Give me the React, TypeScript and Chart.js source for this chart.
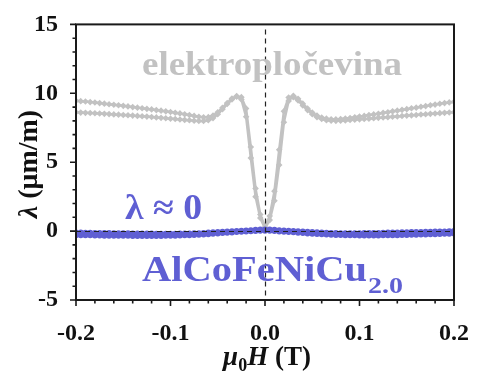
import React, { useEffect, useRef } from "react";
import { Chart, registerables } from "chart.js";
Chart.register(...registerables);

// Magnetic field sweep (T)
const field = [
  -0.2, -0.195, -0.19, -0.185, -0.18, -0.175, -0.17, -0.165, -0.16, -0.155,
  -0.15, -0.145, -0.14, -0.135, -0.13, -0.125, -0.12, -0.115, -0.11, -0.105,
  -0.1, -0.095, -0.09, -0.085, -0.08, -0.075, -0.07, -0.065, -0.06, -0.055,
  -0.05, -0.045, -0.04, -0.035, -0.03, -0.025, -0.02, -0.015, -0.01, -0.005,
  0.0, 0.005, 0.01, 0.015, 0.02, 0.025, 0.03, 0.035, 0.04, 0.045,
  0.05, 0.055, 0.06, 0.065, 0.07, 0.075, 0.08, 0.085, 0.09, 0.095,
  0.1, 0.105, 0.11, 0.115, 0.12, 0.125, 0.13, 0.135, 0.14, 0.145,
  0.15, 0.155, 0.16, 0.165, 0.17, 0.175, 0.18, 0.185, 0.19, 0.195, 0.2,
];

// elektroplocevina, branch 1 (µm/m)
const steelUpper = [
  9.46, 9.43, 9.4, 9.36, 9.33, 9.29, 9.25, 9.21, 9.17, 9.13,
  9.09, 9.05, 9.0, 8.96, 8.92, 8.87, 8.83, 8.78, 8.74, 8.69,
  8.64, 8.59, 8.54, 8.48, 8.42, 8.36, 8.3, 8.26, 8.27, 8.38,
  8.62, 8.95, 9.3, 9.62, 9.8, 9.55, 8.3, 5.3, 2.5, 0.95,
  0.2, 0.8, 2.2, 4.8, 7.9, 9.45, 9.82, 9.6, 9.25, 8.9,
  8.6, 8.38, 8.24, 8.16, 8.12, 8.11, 8.13, 8.17, 8.21, 8.26,
  8.31, 8.36, 8.42, 8.47, 8.52, 8.58, 8.63, 8.69, 8.74, 8.8,
  8.85, 8.91, 8.96, 9.02, 9.07, 9.13, 9.18, 9.24, 9.29, 9.34, 9.39,
];

// elektroplocevina, branch 2 (µm/m)
const steelLower = [
  8.62, 8.6, 8.58, 8.57, 8.55, 8.53, 8.51, 8.49, 8.47, 8.45,
  8.43, 8.41, 8.38, 8.36, 8.33, 8.31, 8.28, 8.25, 8.22, 8.19,
  8.16, 8.13, 8.1, 8.07, 8.04, 8.01, 7.99, 7.99, 8.05, 8.2,
  8.48, 8.85, 9.22, 9.55, 9.75, 9.72, 8.9, 6.1, 3.1, 1.2,
  0.3, 1.1, 2.9, 5.9, 8.7, 9.7, 9.72, 9.48, 9.12, 8.78,
  8.48, 8.27, 8.13, 8.05, 8.01, 8.0, 8.01, 8.03, 8.06, 8.08,
  8.11, 8.14, 8.16, 8.19, 8.22, 8.24, 8.27, 8.3, 8.32, 8.35,
  8.38, 8.4, 8.43, 8.46, 8.48, 8.51, 8.53, 8.56, 8.58, 8.61, 8.63,
];

// AlCoFeNiCu2.0, branch 1 (µm/m)
const alloyUpper = [
  -0.1, -0.11, -0.12, -0.12, -0.13, -0.13, -0.14, -0.14, -0.15, -0.15,
  -0.16, -0.16, -0.17, -0.17, -0.18, -0.18, -0.18, -0.19, -0.19, -0.19,
  -0.19, -0.19, -0.18, -0.18, -0.17, -0.16, -0.15, -0.13, -0.11, -0.09,
  -0.07, -0.05, -0.03, -0.01, 0.01, 0.03, 0.05, 0.07, 0.09, 0.11,
  0.12, 0.11, 0.09, 0.07, 0.05, 0.03, 0.01, -0.01, -0.03, -0.05,
  -0.07, -0.09, -0.11, -0.12, -0.13, -0.14, -0.15, -0.15, -0.15, -0.15,
  -0.15, -0.14, -0.14, -0.13, -0.13, -0.12, -0.11, -0.1, -0.1, -0.09,
  -0.08, -0.07, -0.06, -0.06, -0.05, -0.04, -0.03, -0.03, -0.02, -0.01, 0.0,
];

// AlCoFeNiCu2.0, branch 2 (µm/m)
const alloyLower = [
  -0.3, -0.3, -0.31, -0.31, -0.32, -0.32, -0.33, -0.33, -0.33, -0.34,
  -0.34, -0.34, -0.35, -0.35, -0.35, -0.35, -0.35, -0.35, -0.35, -0.34,
  -0.34, -0.33, -0.32, -0.31, -0.3, -0.28, -0.26, -0.24, -0.22, -0.19,
  -0.17, -0.14, -0.12, -0.1, -0.07, -0.05, -0.03, -0.01, 0.01, 0.02,
  0.03, 0.02, 0.0, -0.02, -0.04, -0.07, -0.09, -0.12, -0.14, -0.17,
  -0.19, -0.21, -0.23, -0.25, -0.26, -0.28, -0.29, -0.3, -0.31, -0.31,
  -0.32, -0.32, -0.32, -0.32, -0.32, -0.31, -0.31, -0.3, -0.3, -0.29,
  -0.28, -0.27, -0.26, -0.25, -0.24, -0.23, -0.22, -0.21, -0.2, -0.19, -0.18,
];

const xMajorTicks = [-0.2, -0.1, 0.0, 0.1, 0.2];
const yMajorTicks = [-5, 0, 5, 10, 15];
const xMinorStep = 0.02;
const yMinorStep = 1;

const GRAY = "#c2c2c2";
const BLUE = "#5f5fd3";
const INK = "#111111";
const SERIF = '"Liberation Serif"';

function drawFit(
  ctx: CanvasRenderingContext2D,
  text: string,
  font: string,
  color: string,
  left: number,
  right: number,
  baseline: number
) {
  ctx.save();
  ctx.font = font;
  ctx.fillStyle = color;
  ctx.textAlign = "left";
  ctx.textBaseline = "alphabetic";
  const w = ctx.measureText(text).width;
  const sx = (right - left) / w;
  ctx.translate(left, baseline);
  ctx.scale(sx, 1);
  ctx.fillText(text, 0, 0);
  ctx.restore();
}

const overlay = {
  id: "overlay",
  afterDatasetsDraw(chart: any) {
    const ctx: CanvasRenderingContext2D = chart.ctx;
    const { left, right, top, bottom } = chart.chartArea;
    const xs = chart.scales.x;
    const ys = chart.scales.y;
    ctx.save();
    // dashed zero lines
    ctx.strokeStyle = "#222";
    ctx.lineWidth = 1.2;
    ctx.setLineDash([5, 4]);
    const x0 = Math.round(xs.getPixelForValue(0)) + 0.5;
    ctx.beginPath();
    ctx.moveTo(x0, top + 5);
    ctx.lineTo(x0, bottom);
    ctx.stroke();
    const y0 = Math.round(ys.getPixelForValue(0)) + 0.5;
    ctx.beginPath();
    ctx.moveTo(left, y0);
    ctx.lineTo(right, y0);
    ctx.stroke();
    ctx.setLineDash([]);

    // frame
    ctx.strokeStyle = "#1a1a1a";
    ctx.lineWidth = 2;
    ctx.strokeRect(left, top, right - left, bottom - top);

    // ticks
    ctx.lineWidth = 1.6;
    ctx.beginPath();
    for (let v = -0.2; v <= 0.2001; v += xMinorStep) {
      const px = xs.getPixelForValue(v);
      const major = xMajorTicks.some((t) => Math.abs(t - v) < 1e-6);
      ctx.moveTo(px, bottom);
      ctx.lineTo(px, bottom + (major ? 6 : 3.5));
    }
    for (let v = -5; v <= 15; v += yMinorStep) {
      const py = ys.getPixelForValue(v);
      const major = yMajorTicks.includes(v);
      ctx.moveTo(left, py);
      ctx.lineTo(left - (major ? 6 : 3.5), py);
    }
    ctx.stroke();
    ctx.restore();
  },
  afterDraw(chart: any) {
    const ctx: CanvasRenderingContext2D = chart.ctx;
    const { left, right } = chart.chartArea;
    ctx.save();
    // annotations
    drawFit(ctx, "elektropločevina", `bold 33px ${SERIF}`, GRAY, 142, 402, 75);
    drawFit(ctx, "λ ≈ 0", `bold 35px ${SERIF}`, BLUE, 125, 202, 219);
    drawFit(ctx, "AlCoFeNiCu", `bold 36px ${SERIF}`, BLUE, 142, 367, 281);
    drawFit(ctx, "2.0", `bold 23px ${SERIF}`, BLUE, 368, 403, 293);

    // x-axis title: μ0H (T)
    ctx.fillStyle = INK;
    ctx.textBaseline = "alphabetic";
    ctx.textAlign = "left";
    const parts: [string, string, number][] = [
      ["μ", `italic bold 27px ${SERIF}`, 0],
      ["0", `bold 18px ${SERIF}`, 6],
      ["H", `italic bold 27px ${SERIF}`, 0],
      [" (T)", `bold 27px ${SERIF}`, 0],
    ];
    let total = 0;
    for (const [t, f] of parts) {
      ctx.font = f;
      total += ctx.measureText(t).width;
    }
    let cx = (left + right) / 2 + 2 - total / 2;
    for (const [t, f, dy] of parts) {
      ctx.font = f;
      ctx.fillText(t, cx, 365 + dy);
      cx += ctx.measureText(t).width;
    }

    // y-axis title: λ (μm/m)
    const yparts: [string, string][] = [
      ["λ", `italic bold 28px ${SERIF}`],
      [" (μm/m)", `bold 28px ${SERIF}`],
    ];
    let ytotal = 0;
    for (const [t, f] of yparts) {
      ctx.font = f;
      ytotal += ctx.measureText(t).width;
    }
    ctx.translate(37, 164);
    ctx.rotate(-Math.PI / 2);
    let ux = -ytotal / 2;
    for (const [t, f] of yparts) {
      ctx.font = f;
      ctx.fillText(t, ux, 0);
      ux += ctx.measureText(t).width;
    }
    ctx.restore();
  },
};

export default function App() {
  const ref = useRef<HTMLCanvasElement>(null);
  useEffect(() => {
    document.body.style.margin = "0";
    const canvas = ref.current;
    if (!canvas) return;
    const toXY = (ys: number[]) => field.map((x, i) => ({ x, y: ys[i] }));
    const tickFont = { family: SERIF, size: 24, weight: "bold" as const };
    const blueDs = (label: string, ys: number[], order: number) => ({
      label,
      data: toXY(ys),
      borderColor: BLUE,
      backgroundColor: BLUE,
      pointBackgroundColor: BLUE,
      pointBorderColor: BLUE,
      pointStyle: "circle",
      pointRadius: 3,
      pointBorderWidth: 0,
      borderWidth: 2,
      order,
    });
    const grayDs = (label: string, ys: number[], order: number) => ({
      label,
      data: toXY(ys),
      borderColor: GRAY,
      backgroundColor: GRAY,
      pointBackgroundColor: GRAY,
      pointBorderColor: GRAY,
      pointStyle: "rectRot",
      pointRadius: 3.3,
      pointBorderWidth: 0,
      borderWidth: 2.5,
      order,
    });
    const chart = new Chart(canvas, {
      type: "line",
      data: {
        datasets: [
          blueDs("AlCoFeNiCu2.0 a", alloyUpper, 0),
          blueDs("AlCoFeNiCu2.0 b", alloyLower, 1),
          grayDs("elektroplocevina a", steelUpper, 2),
          grayDs("elektroplocevina b", steelLower, 3),
        ] as any,
      },
      options: {
        animation: false,
        responsive: false,
        maintainAspectRatio: false,
        layout: { padding: { left: 0, right: 14, top: 23, bottom: 0 } },
        plugins: {
          legend: { display: false },
          tooltip: { enabled: false },
        },
        scales: {
          x: {
            type: "linear",
            min: -0.2,
            max: 0.2,
            afterFit: (s: any) => {
              s.height = 72;
            },
            afterBuildTicks: (s: any) => {
              s.ticks = xMajorTicks.map((v) => ({ value: v }));
            },
            ticks: {
              callback: (v: any) => Number(v).toFixed(1),
              font: tickFont,
              color: INK,
              padding: 11,
              maxRotation: 0,
              autoSkip: false,
            },
            grid: { display: false },
            border: { display: false },
          },
          y: {
            type: "linear",
            min: -5,
            max: 15,
            afterFit: (s: any) => {
              s.width = 76;
            },
            afterBuildTicks: (s: any) => {
              s.ticks = yMajorTicks.map((v) => ({ value: v }));
            },
            ticks: {
              callback: (v: any) => String(v),
              font: tickFont,
              color: INK,
              padding: 10,
              autoSkip: false,
            },
            grid: { display: false },
            border: { display: false },
          },
        },
      },
      plugins: [overlay],
    });
    return () => chart.destroy();
  }, []);
  return (
    <canvas
      ref={ref}
      width={480}
      height={372}
      style={{ display: "block", width: 480, height: 372 }}
    />
  );
}
